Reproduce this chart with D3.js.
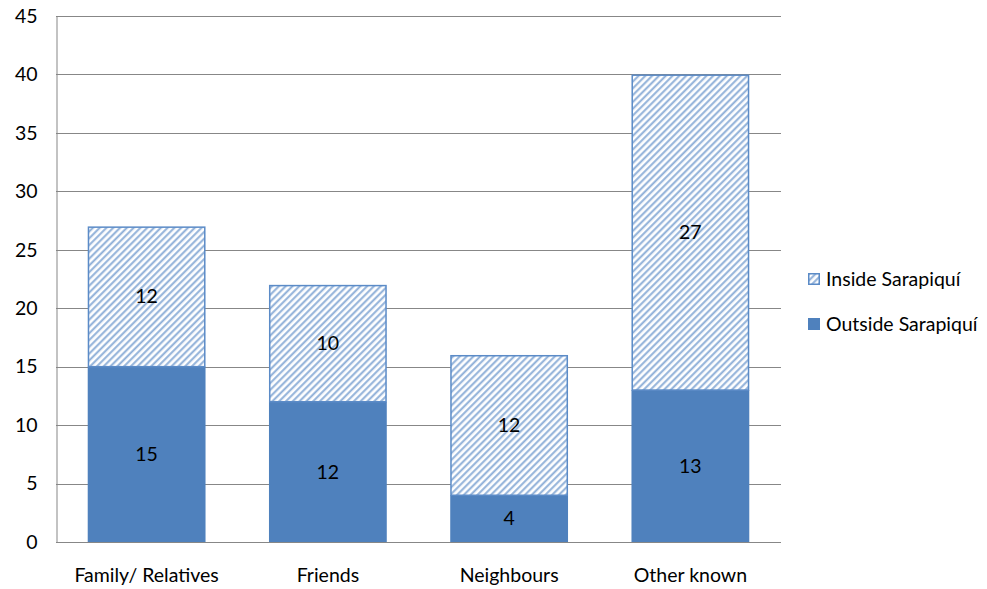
<!DOCTYPE html>
<html>
<head>
<meta charset="utf-8">
<script src="https://cdn.jsdelivr.net/npm/d3@7"></script>
<style>
  html, body { margin: 0; padding: 0; background: #fff; }
  svg { display: block; font-family: "Lato", "Open Sans", sans-serif; }
</style>
</head>
<body>
<svg id="chart" width="987" height="589"></svg>
<script>
const categories = ["Family/ Relatives", "Friends", "Neighbours", "Other known"];
const outsideValues = [15, 12, 4, 13];
const insideValues = [12, 10, 12, 27];
const seriesNames = ["Inside Sarapiquí", "Outside Sarapiquí"];
const yTicks = [0, 5, 10, 15, 20, 25, 30, 35, 40, 45];

const svg = d3.select("#chart");
const margin = { left: 56, right: 206, top: 16, bottom: 47 };
const W = 987, H = 589;
const FS = 19.5;

const x = d3.scaleBand()
  .domain(categories)
  .range([margin.left, W - margin.right])
  .paddingInner(0.35)
  .paddingOuter(0.175);

const y = d3.scaleLinear()
  .domain([0, 45])
  .range([H - margin.bottom, margin.top]);

// diagonal hatch fill for the upper segment
const defs = svg.append("defs");
const pat = defs.append("pattern")
  .attr("id", "hatch")
  .attr("patternUnits", "userSpaceOnUse")
  .attr("width", 4.8)
  .attr("height", 4.8)
  .attr("patternTransform", "rotate(45)");
pat.append("rect").attr("width", 4.8).attr("height", 4.8).attr("fill", "#fff");
pat.append("line")
  .attr("x1", 1.2).attr("x2", 1.2).attr("y1", 0).attr("y2", 4.8)
  .attr("stroke", "#8eafd8").attr("stroke-width", 2);

// gridlines
svg.append("g")
  .selectAll("line")
  .data(yTicks)
  .join("line")
  .attr("x1", margin.left)
  .attr("x2", W - margin.right)
  .attr("y1", d => Math.round(y(d)) + 0.5)
  .attr("y2", d => Math.round(y(d)) + 0.5)
  .attr("stroke", "#878787")
  .attr("stroke-width", 1);

// left axis
const yAxis = d3.axisLeft(y).tickValues(yTicks).tickSize(0).tickPadding(19);
const gy = svg.append("g")
  .attr("transform", `translate(${margin.left + 0.5},0)`)
  .call(yAxis);
gy.select(".domain").attr("stroke", "#878787");
gy.selectAll("text")
  .attr("font-size", FS)
  .attr("fill", "#000")
  .style("font-family", "Lato, 'Open Sans', sans-serif");

// bottom labels
const xAxis = d3.axisBottom(x).tickSize(0).tickPadding(26);
const gx = svg.append("g")
  .attr("transform", `translate(0,${H - margin.bottom})`)
  .call(xAxis);
gx.select(".domain").remove();
gx.selectAll("text")
  .attr("font-size", FS)
  .attr("fill", "#000")
  .style("font-family", "Lato, 'Open Sans', sans-serif");

// solid lower segment
svg.append("g")
  .selectAll("rect")
  .data(categories)
  .join("rect")
  .attr("x", d => x(d))
  .attr("width", x.bandwidth())
  .attr("y", (d, i) => y(outsideValues[i]))
  .attr("height", (d, i) => y(0) - y(outsideValues[i]))
  .attr("fill", "#4f81bd");

// hatched upper segment
svg.append("g")
  .selectAll("rect")
  .data(categories)
  .join("rect")
  .attr("x", d => x(d) + 0.75)
  .attr("width", x.bandwidth() - 1.5)
  .attr("y", (d, i) => y(outsideValues[i] + insideValues[i]) + 0.75)
  .attr("height", (d, i) => y(outsideValues[i]) - y(outsideValues[i] + insideValues[i]) - 0.75)
  .attr("fill", "url(#hatch)")
  .attr("stroke", "#5b8bc7")
  .attr("stroke-width", 1.5);

// value labels
const labelG = svg.append("g")
  .attr("font-size", FS)
  .attr("fill", "#000")
  .attr("text-anchor", "middle");
categories.forEach((c, i) => {
  const cx = x(c) + x.bandwidth() / 2;
  labelG.append("text")
    .attr("x", cx)
    .attr("y", (y(0) + y(outsideValues[i])) / 2)
    .attr("dy", "0.35em")
    .text(outsideValues[i]);
  labelG.append("text")
    .attr("x", cx)
    .attr("y", (y(outsideValues[i]) + y(outsideValues[i] + insideValues[i])) / 2)
    .attr("dy", "0.35em")
    .text(insideValues[i]);
});

// legend
const legend = svg.append("g").attr("transform", "translate(808,273)");
const items = [
  { name: seriesNames[0], fill: "url(#hatch)", stroke: "#5b8bc7" },
  { name: seriesNames[1], fill: "#4f81bd", stroke: "none" }
];
items.forEach((it, i) => {
  const g = legend.append("g").attr("transform", `translate(0,${i * 45})`);
  g.append("rect")
    .attr("x", it.stroke === "none" ? 0 : 0.75)
    .attr("y", it.stroke === "none" ? 0 : 0.75)
    .attr("width", it.stroke === "none" ? 12 : 10.5)
    .attr("height", it.stroke === "none" ? 12 : 10.5)
    .attr("fill", it.fill)
    .attr("stroke", it.stroke)
    .attr("stroke-width", 1.5);
  g.append("text")
    .attr("x", 18)
    .attr("y", 6)
    .attr("dy", "0.35em")
    .attr("font-size", FS)
    .attr("fill", "#000")
    .text(it.name);
});
</script>
</body>
</html>
